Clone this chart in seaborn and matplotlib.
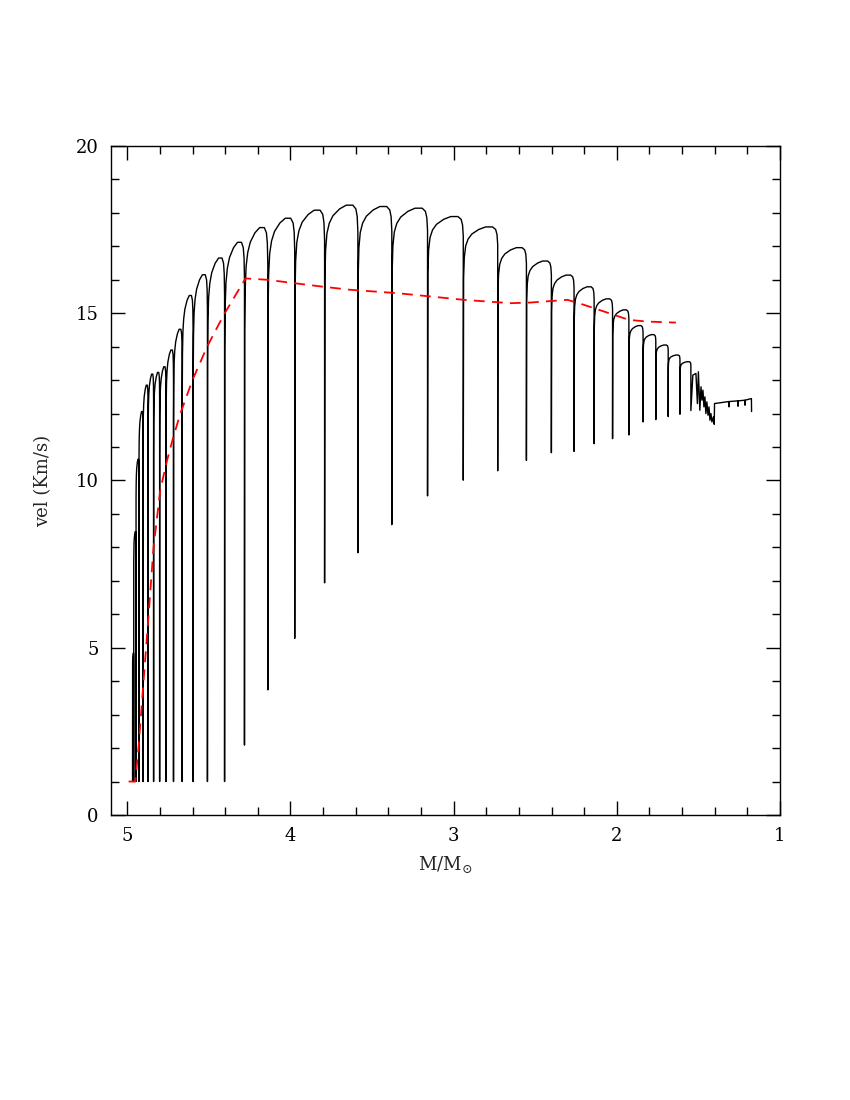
import numpy as np
import pandas as pd
import matplotlib
matplotlib.use('Agg')
import matplotlib.pyplot as plt
from matplotlib.ticker import MultipleLocator
import seaborn as sns

# pulse data (mass in solar masses, velocity in km/s)
start_mass = 4.968
start_vel = 1.0

drop_mass = [4.961, 4.947, 4.929, 4.904, 4.873, 4.839, 4.802, 4.763, 4.717, 4.664,
             4.597, 4.509, 4.404, 4.282, 4.139, 3.974, 3.791, 3.587, 3.379, 3.160,
             2.941, 2.730, 2.554, 2.401, 2.262, 2.139, 2.026, 1.926, 1.839, 1.761,
             1.685, 1.613, 1.546]
min_vel = [1.0, 1.0, 1.0, 1.0, 1.0, 1.0, 1.0, 1.0, 1.0, 1.0,
           1.0, 1.0, 1.0, 2.09, 3.74, 5.28, 6.94, 7.84, 8.68, 9.54,
           10.01, 10.29, 10.60, 10.83, 10.87, 11.10, 11.25, 11.36, 11.75, 11.82,
           11.91, 11.98, 12.09]
peak_vel = [4.84, 8.47, 10.63, 12.06, 12.85, 13.18, 13.23, 13.40, 13.90, 14.52,
            15.53, 16.15, 16.65, 17.12, 17.56, 17.84, 18.08, 18.23, 18.19, 18.14,
            17.89, 17.58, 16.96, 16.56, 16.14, 15.79, 15.43, 15.10, 14.63, 14.36,
            14.05, 13.75, 13.55]

# noisy tail after the last regular pulse
tail_mass = [1.534, 1.515, 1.506, 1.500, 1.491, 1.484, 1.478, 1.472, 1.466, 1.460,
             1.454, 1.448, 1.441, 1.435, 1.429, 1.423, 1.417, 1.408, 1.403, 1.401,
             1.313, 1.312, 1.311, 1.258, 1.257, 1.256, 1.215, 1.214, 1.213, 1.175,
             1.174]
tail_vel = [13.15, 13.20, 12.30, 13.25, 12.10, 12.80, 12.40, 12.70, 12.20, 12.50,
            12.00, 12.35, 11.95, 12.20, 11.80, 12.00, 11.75, 11.90, 11.68, 12.30,
            12.36, 12.20, 12.36, 12.38, 12.22, 12.38, 12.40, 12.25, 12.40, 12.45,
            12.06]

# red dashed curve
dash_mass = [4.992, 4.951, 4.931, 4.900, 4.869, 4.839, 4.798, 4.756, 4.718, 4.675,
             4.601, 4.511, 4.409, 4.276, 4.143, 3.980, 3.796, 3.632, 3.345, 2.937,
             2.650, 2.528, 2.302, 2.201, 2.078, 1.925, 1.812, 1.638]
dash_vel = [1.0, 1.0, 2.04, 4.04, 6.03, 8.02, 9.72, 10.61, 11.30, 12.00,
            13.00, 14.00, 14.95, 16.04, 16.00, 15.90, 15.79, 15.70, 15.60, 15.40,
            15.30, 15.32, 15.40, 15.25, 15.05, 14.80, 14.75, 14.72]

# recovery shape of one pulse: fraction of the way to the next drop, fraction of the rise
shape_t = [0.0, 0.01, 0.03, 0.07, 0.14, 0.25, 0.45, 0.65, 0.85, 0.94, 0.98, 1.0]
shape_f = [0.0, 0.80, 0.88, 0.925, 0.952, 0.972, 0.99, 1.0, 1.0, 0.99, 0.97, 0.93]

# assemble the pulsating curve
xs = [start_mass]
ys = [start_vel]
prev_m, prev_lo = start_mass, start_vel
for m, lo, hi in zip(drop_mass, min_vel, peak_vel):
    w = prev_m - m
    for t, f in zip(shape_t[1:], shape_f[1:]):
        xs.append(prev_m - t * w)
        ys.append(prev_lo + f * (hi - prev_lo))
    xs.append(m)
    ys.append(lo)
    prev_m, prev_lo = m, lo
xs += tail_mass
ys += tail_vel

pulses = pd.DataFrame({'mass': xs, 'vel': ys})
envelope = pd.DataFrame({'mass': dash_mass, 'vel': dash_vel})

sns.set_style('ticks')
plt.rcParams['font.family'] = ['DejaVu Serif']
plt.rcParams['mathtext.fontset'] = 'dejavuserif'

fig = plt.figure(figsize=(8.5, 11), dpi=100)
ax = fig.add_axes([0.1306, 0.2591, 0.787, 0.6082])

sns.lineplot(data=pulses, x='mass', y='vel', sort=False, estimator=None,
             color='black', lw=1.0, ax=ax)
sns.lineplot(data=envelope, x='mass', y='vel', sort=False, estimator=None,
             color='red', lw=1.3, ax=ax)
ax.lines[-1].set_linestyle((0, (6, 4)))

ax.set_xlim(5.1, 1.0)
ax.set_ylim(0, 20)
ax.xaxis.set_major_locator(MultipleLocator(1))
ax.xaxis.set_minor_locator(MultipleLocator(0.2))
ax.yaxis.set_major_locator(MultipleLocator(5))
ax.yaxis.set_minor_locator(MultipleLocator(1))
ax.tick_params(which='both', direction='in', top=True, right=True, width=1.0,
               labelsize=13, colors='black')
ax.tick_params(which='major', length=10, pad=9)
ax.tick_params(which='minor', length=5.5)
for s in ax.spines.values():
    s.set_linewidth(1.0)
    s.set_color('black')

ax.set_xlabel(r'M/M$_{\odot}$', fontsize=13, labelpad=6)
ax.set_ylabel('vel (Km/s)', fontsize=13, labelpad=17)

fig.savefig('out.png', dpi=100)
